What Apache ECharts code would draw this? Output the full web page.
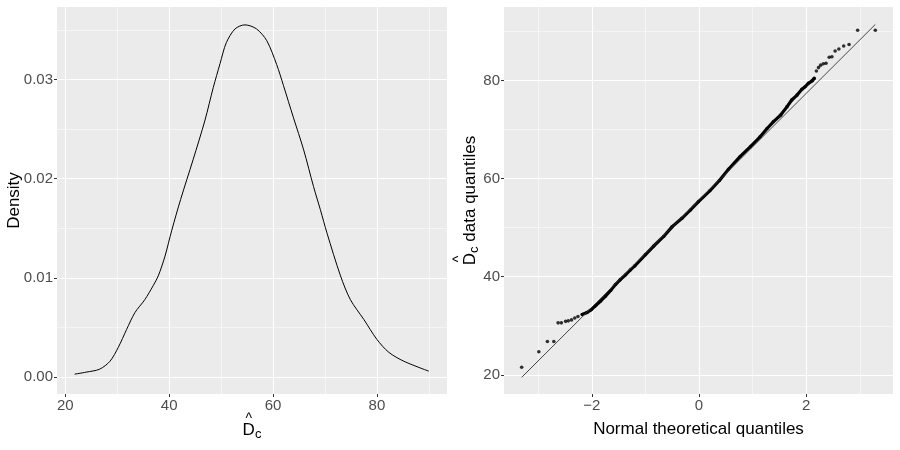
<!DOCTYPE html>
<html>
<head>
<meta charset="utf-8">
<script src="https://cdn.jsdelivr.net/npm/echarts@6/dist/echarts.min.js"></script>
<style>
  html, body { margin: 0; padding: 0; background: #fff; }
  #main { width: 900px; height: 450px; }
</style>
</head>
<body>
<div id="main"></div>
<script>
// kernel density of the estimate (left panel)
const densityX = [21.8, 24.0, 26.6, 28.6, 30.2, 31.8, 33.4, 35.3, 36.9, 37.9, 39.2, 40.5, 42.2, 44.6, 46.9, 48.5,
  49.8, 51.0, 52.7, 54.6, 56.8, 58.8, 60.7, 62.0, 63.9, 65.9, 67.8, 69.1, 70.4, 73.0, 74.9, 77.5, 80.0, 82.3, 85.2, 90.0];
const densityY = [0.0003, 0.0005, 0.0008, 0.0016, 0.0030, 0.0048, 0.0065, 0.0078, 0.0092, 0.0102, 0.0122, 0.0148,
  0.0179, 0.0219, 0.0259, 0.0292, 0.0316, 0.0337, 0.0351, 0.0355, 0.0351, 0.0339, 0.0315, 0.0294, 0.0262, 0.0229,
  0.0192, 0.0169, 0.0145, 0.0102, 0.0078, 0.0058, 0.0038, 0.0025, 0.0016, 0.0006];

// normal QQ plot (right panel): isolated points in the tails
const tailTheo = [-3.31, -2.99, -2.83, -2.71, -2.63, -2.57, -2.49, -2.44, -2.38, -2.32, -2.26,
  2.19, 2.23, 2.27, 2.32, 2.37, 2.43, 2.48, 2.54, 2.61, 2.70, 2.80, 2.96, 3.29];
const tailSample = [21.55, 24.7, 26.8, 26.8, 30.6, 30.6, 30.9, 31.0, 31.2, 31.6, 31.9,
  81.9, 82.6, 83.1, 83.4, 83.5, 84.7, 84.8, 86.0, 86.4, 87.0, 87.3, 90.2, 90.2];
// the dense run of points in the middle
const bandTheo = [-2.18, -2.09, -2.01, -1.93, -1.84, -1.75, -1.65, -1.56, -1.47, -1.37, -1.28, -1.20, -1.00, -0.85,
  -0.66, -0.50, -0.32, -0.16, -0.01, 0.20, 0.38, 0.55, 0.77, 0.96, 1.14, 1.27, 1.39, 1.52, 1.64, 1.73, 1.83, 1.92,
  1.98, 2.04, 2.11, 2.15];
const bandSample = [32.3, 32.7, 33.3, 34.1, 35.0, 36.0, 37.2, 38.4, 39.4, 40.4, 41.4, 42.2, 44.5, 46.2,
  48.2, 50.2, 51.9, 53.6, 55.3, 57.5, 59.6, 61.9, 64.5, 66.5, 68.5, 70.2, 71.6, 72.9, 74.6, 76.0, 77.0, 78.2,
  78.7, 79.4, 79.9, 80.4];
// reference line
const lineTheo = [-3.31, 3.29];
const lineSample = [19.5, 91.4];

// tick labels
const densityXTicks = [20, 40, 60, 80];
const densityYTicks = [0, 0.01, 0.02, 0.03];
const qqXTicks = [-2, 0, 2];
const qqYTicks = [20, 40, 60, 80];

const zip = (a, b) => a.map((v, i) => [v, b[i]]);

const FONT = 'Liberation Sans';
// D-hat with subscript c
const richTitle = {
  hat: { fontFamily: FONT, fontSize: 14, color: '#000', align: 'left', padding: [0, 0, 0, 3], lineHeight: 6.5 },
  d: { fontFamily: FONT, fontSize: 17, color: '#000', lineHeight: 14, verticalAlign: 'top' },
  sub: { fontFamily: FONT, fontSize: 13, color: '#000', lineHeight: 10, padding: [6, 0, 0, 0], verticalAlign: 'top' },
  t: { fontFamily: FONT, fontSize: 17, color: '#000', lineHeight: 14, verticalAlign: 'top' }
};

function valueAxis(grid, min, max, ticks, fmt, name, gap, rich) {
  return {
    type: 'value', gridIndex: grid, min: min, max: max, splitNumber: 4,
    axisLine: { show: false, onZero: false },
    axisTick: { show: true, length: 3, lineStyle: { color: '#333', width: 1 }, customValues: ticks },
    axisLabel: { color: '#4D4D4D', fontSize: 15, fontFamily: FONT, margin: 4, customValues: ticks, formatter: fmt },
    splitLine: { show: true, lineStyle: { color: '#fff', width: 1.1 } },
    minorTick: { show: false, splitNumber: 2 },
    minorSplitLine: { show: true, lineStyle: { color: '#fff', width: 0.5 } },
    name: name, nameLocation: 'middle', nameGap: gap, nameMoveOverlap: false,
    nameTextStyle: { fontFamily: FONT, fontSize: 17, color: '#000', rich: rich }
  };
}

const chart = echarts.init(document.getElementById('main'));
chart.setOption({
  animation: false,
  backgroundColor: '#fff',
  grid: [
    { left: 57, right: 453, top: 7, bottom: 56, show: true, backgroundColor: '#EBEBEB', borderWidth: 0 },
    { left: 504, right: 7, top: 7, bottom: 56, show: true, backgroundColor: '#EBEBEB', borderWidth: 0 }
  ],
  xAxis: [
    valueAxis(0, 18.4, 93.5, densityXTicks, v => String(v), '{hat|^}\n{d|D}{sub|c}', 21.5, richTitle),
    valueAxis(1, -3.64, 3.62, qqXTicks, v => (v < 0 ? '\u2212' + Math.abs(v) : String(v)), 'Normal theoretical quantiles', 26.5)
  ],
  yAxis: [
    valueAxis(0, -0.0017, 0.0373, densityYTicks, v => v.toFixed(2), 'Density', 34),
    valueAxis(1, 16.1, 94.95, qqYTicks, v => String(v), '{hat|^}\n{d|D}{sub|c}{t| data quantiles}', 28, richTitle)
  ],
  series: [
    {
      type: 'line', xAxisIndex: 0, yAxisIndex: 0, data: zip(densityX, densityY),
      smooth: 0.3, showSymbol: false, silent: true,
      lineStyle: { color: '#000', width: 1 }
    },
    {
      type: 'line', xAxisIndex: 1, yAxisIndex: 1, data: zip(bandTheo, bandSample),
      showSymbol: false, silent: true,
      lineStyle: { color: '#000', width: 3.2, cap: 'round', join: 'round' }
    },
    {
      type: 'scatter', xAxisIndex: 1, yAxisIndex: 1,
      data: zip(tailTheo, tailSample).concat(zip(bandTheo, bandSample)),
      symbolSize: 3.6, silent: true, itemStyle: { color: '#000' }
    },
    {
      type: 'line', xAxisIndex: 1, yAxisIndex: 1, data: zip(lineTheo, lineSample),
      showSymbol: false, silent: true, z: 5,
      lineStyle: { color: '#333', width: 0.9 }
    }
  ]
});
</script>
</body>
</html>
